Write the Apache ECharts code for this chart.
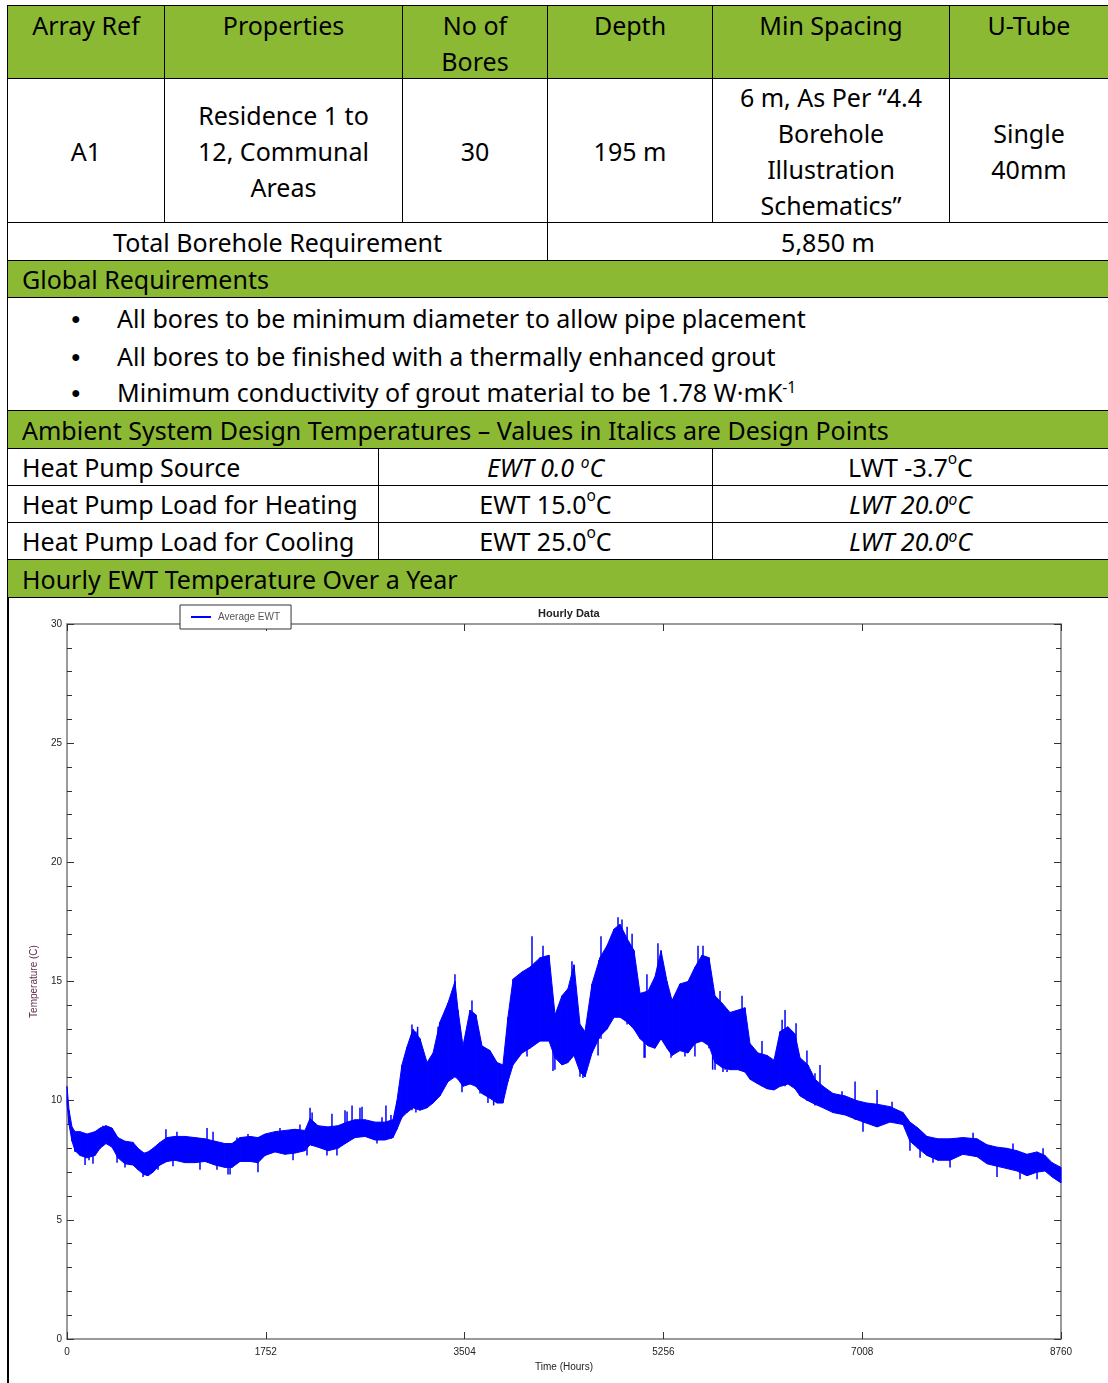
<!DOCTYPE html>
<html>
<head>
<meta charset="utf-8">
<script src="https://cdn.jsdelivr.net/npm/echarts@6/dist/echarts.min.js"></script>
<style>
  body { margin: 0; width: 1108px; height: 1383px; overflow: hidden; background: #fff; position: relative;
         font-family: "Noto Sans", "Open Sans", sans-serif; color: #000; }
  .c { position: absolute; box-sizing: border-box; border: 1px solid #000; display: flex; align-items: center;
       justify-content: center; text-align: center; font-size: 25px; line-height: 36px; }
  .g { background: #8bb934; }
  .t { align-items: flex-start; padding-top: 1px; }
  .l { justify-content: flex-start; padding-left: 14px; }
  .b { position: absolute; left: 109px; font-size: 25px; line-height: 36px; white-space: nowrap; }
  .dot { position: absolute; left: -46px; font-size: 16px; }
  sup { font-size: 62%; vertical-align: baseline; position: relative; top: -0.55em; line-height: 0; }
  #chart { position: absolute; left: 0; top: 597px; width: 1108px; height: 786px; }
  #edge { position: absolute; left: 7px; top: 597px; width: 2px; height: 786px; background: #000; z-index: 5; }
</style>
</head>
<body>
<!-- header row -->
<div class="c g t" style="left:7px;top:5px;width:158px;height:74px">Array Ref</div>
<div class="c g t" style="left:164px;top:5px;width:239px;height:74px">Properties</div>
<div class="c g t" style="left:402px;top:5px;width:146px;height:74px">No of<br>Bores</div>
<div class="c g t" style="left:547px;top:5px;width:166px;height:74px">Depth</div>
<div class="c g t" style="left:712px;top:5px;width:238px;height:74px">Min Spacing</div>
<div class="c g t" style="left:949px;top:5px;width:160px;height:74px">U-Tube</div>
<!-- A1 row -->
<div class="c" style="left:7px;top:78px;width:158px;height:145px">A1</div>
<div class="c" style="left:164px;top:78px;width:239px;height:145px">Residence 1 to<br>12, Communal<br>Areas</div>
<div class="c" style="left:402px;top:78px;width:146px;height:145px">30</div>
<div class="c" style="left:547px;top:78px;width:166px;height:145px">195 m</div>
<div class="c" style="left:712px;top:78px;width:238px;height:145px">6 m, As Per “4.4<br>Borehole<br>Illustration<br>Schematics”</div>
<div class="c" style="left:949px;top:78px;width:160px;height:145px">Single<br>40mm</div>
<!-- total -->
<div class="c" style="left:7px;top:222px;width:541px;height:39px">Total Borehole Requirement</div>
<div class="c" style="left:547px;top:222px;width:562px;height:39px">5,850 m</div>
<!-- global -->
<div class="c g l" style="left:7px;top:260px;width:1102px;height:38px">Global Requirements</div>
<div class="c" style="left:7px;top:297px;width:1102px;height:114px;display:block">
  <div class="b" style="top:2px"><span class="dot">●</span>All bores to be minimum diameter to allow pipe placement</div>
  <div class="b" style="top:40px"><span class="dot">●</span>All bores to be finished with a thermally enhanced grout</div>
  <div class="b" style="top:76px"><span class="dot">●</span>Minimum conductivity of grout material to be 1.78 W·mK<sup>-1</sup></div>
</div>
<!-- ambient -->
<div class="c g l" style="left:7px;top:410px;width:1102px;height:39px">Ambient System Design Temperatures – Values in Italics are Design Points</div>
<div class="c l" style="left:7px;top:448px;width:372px;height:38px">Heat Pump Source</div>
<div class="c" style="left:378px;top:448px;width:335px;height:38px"><i>EWT 0.0 <sup>o</sup>C</i></div>
<div class="c" style="left:712px;top:448px;width:397px;height:38px">LWT -3.7<sup>o</sup>C</div>
<div class="c l" style="left:7px;top:485px;width:372px;height:38px">Heat Pump Load for Heating</div>
<div class="c" style="left:378px;top:485px;width:335px;height:38px">EWT 15.0<sup>o</sup>C</div>
<div class="c" style="left:712px;top:485px;width:397px;height:38px"><i>LWT 20.0<sup>o</sup>C</i></div>
<div class="c l" style="left:7px;top:522px;width:372px;height:38px">Heat Pump Load for Cooling</div>
<div class="c" style="left:378px;top:522px;width:335px;height:38px">EWT 25.0<sup>o</sup>C</div>
<div class="c" style="left:712px;top:522px;width:397px;height:38px"><i>LWT 20.0<sup>o</sup>C</i></div>
<div class="c g l" style="left:7px;top:559px;width:1102px;height:39px">Hourly EWT Temperature Over a Year</div>

<div id="chart"></div>
<div id="edge"></div>

<script>
// hourly EWT envelope (hour of year, upper and lower edge of the daily swing, deg C)
const hours = [0, 18, 44, 71, 115, 176, 247, 291, 344, 397,
  449, 511, 582, 626, 679, 714, 758, 820, 881, 952,
  1040, 1128, 1216, 1304, 1392, 1454, 1525, 1613, 1683, 1745,
  1833, 1921, 2009, 2097, 2142, 2212, 2300, 2388, 2468, 2538,
  2626, 2714, 2802, 2873, 2908, 2952, 2996, 3049, 3111, 3173,
  3226, 3287, 3358, 3419, 3446, 3490, 3552, 3604, 3657, 3728,
  3790, 3842, 3886, 3931, 4010, 4080, 4169, 4248, 4301, 4362,
  4415, 4468, 4521, 4565, 4627, 4697, 4759, 4821, 4874, 4936,
  4997, 5050, 5121, 5182, 5235, 5288, 5332, 5402, 5473, 5534,
  5596, 5658, 5711, 5772, 5843, 5913, 5975, 6019, 6090, 6169,
  6231, 6284, 6354, 6416, 6460, 6530, 6592, 6663, 6751, 6857,
  6962, 7050, 7139, 7253, 7368, 7429, 7500, 7579, 7676, 7782,
  7896, 8020, 8108, 8196, 8284, 8372, 8460, 8548, 8619, 8681,
  8760]

const upperEwt = [10.6, 9.6, 8.9, 8.7, 8.7, 8.6, 8.7, 8.85, 8.95, 8.85,
  8.45, 8.3, 8.25, 8.0, 7.8, 7.85, 8.0, 8.25, 8.45, 8.5,
  8.5, 8.45, 8.4, 8.3, 8.2, 8.2, 8.45, 8.5, 8.45, 8.6,
  8.7, 8.75, 8.8, 8.75, 9.25, 8.95, 8.9, 8.95, 9.1, 9.2,
  9.2, 9.1, 9.1, 9.2, 10.0, 11.5, 12.25, 13.0, 12.6, 11.6,
  12.0, 13.3, 14.1, 15.0, 13.8, 12.3, 13.8, 13.6, 12.3, 12.1,
  11.6, 11.5, 13.5, 15.1, 15.4, 15.6, 16.0, 16.1, 13.6, 14.4,
  14.7, 15.7, 13.2, 12.9, 14.9, 16.0, 16.5, 17.2, 17.4, 16.8,
  16.3, 14.5, 14.6, 15.2, 16.3, 15.0, 14.2, 14.9, 15.0, 15.6,
  16.1, 16.0, 14.4, 14.1, 13.7, 13.8, 13.9, 12.4, 12.0, 11.9,
  11.7, 12.9, 13.1, 12.8, 11.8, 11.5, 10.9, 10.6, 10.3, 10.2,
  10.0, 9.9, 9.85, 9.75, 9.5, 9.1, 8.85, 8.5, 8.4, 8.4,
  8.45, 8.4, 8.15, 8.05, 8.0, 7.9, 7.75, 7.85, 7.7, 7.4,
  7.2]

const lowerEwt = [9.9, 9.0, 8.3, 7.9, 7.7, 7.6, 7.7, 8.0, 8.2, 8.05,
  7.6, 7.35, 7.3, 7.1, 6.9, 6.85, 7.0, 7.3, 7.45, 7.5,
  7.4, 7.4, 7.45, 7.3, 7.2, 7.2, 7.45, 7.45, 7.4, 7.7,
  7.85, 7.75, 7.8, 7.9, 8.15, 8.05, 7.9, 8.0, 8.25, 8.45,
  8.5, 8.35, 8.35, 8.45, 8.8, 9.3, 9.5, 9.7, 9.6, 9.7,
  9.9, 10.2, 10.8, 11.0, 10.9, 10.6, 10.7, 10.6, 10.3, 10.1,
  9.9, 9.9, 10.8, 11.5, 12.0, 12.2, 12.5, 12.5, 11.8, 11.5,
  11.6, 11.9, 11.2, 11.0, 12.0, 12.7, 13.0, 13.5, 13.5, 13.3,
  13.0, 12.6, 12.3, 12.2, 12.6, 12.2, 11.9, 12.1, 12.0, 12.4,
  12.5, 12.3, 11.6, 11.4, 11.3, 11.3, 11.2, 10.9, 10.7, 10.5,
  10.45, 10.6, 10.7, 10.5, 10.2, 10.0, 9.85, 9.7, 9.5, 9.4,
  9.2, 9.05, 8.9, 9.1, 9.0, 8.3, 8.0, 7.7, 7.5, 7.5,
  7.75, 7.65, 7.35, 7.25, 7.15, 7.05, 6.85, 7.0, 7.05, 6.8,
  6.55]

// single hours that poke out of the envelope: [hour, low, high]
const spikes = [[71, 7.85, 8.5], [141, 7.7, 8.4], [159, 7.3, 8.3], [194, 7.5, 8.3], [229, 7.35, 8.5],
  [247, 8.0, 8.7], [317, 8.2, 8.95], [441, 7.4, 8.2], [511, 7.2, 8.0], [670, 6.8, 7.6],
  [802, 7.1, 7.9], [872, 7.8, 8.8], [934, 7.25, 8.0], [969, 7.8, 8.7], [1172, 7.1, 8.0],
  [1234, 7.6, 8.85], [1287, 7.7, 8.7], [1322, 7.1, 8.0], [1419, 6.9, 7.8], [1437, 6.9, 8.0],
  [1498, 7.6, 8.45], [1595, 7.8, 8.6], [1683, 7.0, 8.2], [1877, 8.0, 8.85], [1992, 7.5, 8.4],
  [2053, 8.1, 9.0], [2115, 7.7, 8.5], [2142, 8.3, 9.7], [2160, 8.1, 9.5], [2291, 7.7, 8.6],
  [2335, 8.0, 9.45], [2379, 7.7, 8.5], [2450, 8.2, 9.6], [2468, 8.5, 9.55], [2512, 8.4, 9.8],
  [2582, 8.6, 9.7], [2600, 8.5, 9.75], [2732, 8.2, 8.9], [2776, 8.6, 9.3], [2811, 8.4, 9.8],
  [2855, 8.4, 9.4], [3040, 9.6, 13.2], [3075, 9.5, 12.9], [3090, 10.5, 13.1], [3270, 10.5, 13.1],
  [3419, 11.0, 15.3], [3481, 10.35, 12.0], [3569, 11.0, 14.2], [3640, 10.3, 12.0], [3710, 9.9, 11.5],
  [3760, 9.8, 11.8], [4054, 11.85, 14.0], [4098, 12.4, 16.9], [4195, 12.6, 16.5], [4283, 11.25, 13.0],
  [4300, 11.3, 13.5], [4450, 12.0, 15.85], [4521, 11.0, 12.5], [4547, 10.95, 12.8], [4680, 11.9, 14.0],
  [4688, 12.6, 15.9], [4706, 12.6, 16.9], [4856, 13.6, 17.7], [4891, 13.5, 17.6], [4936, 13.2, 17.3],
  [4980, 13.2, 17.0], [5086, 11.8, 13.5], [5094, 11.8, 13.0], [5111, 12.4, 15.3], [5208, 12.7, 16.6],
  [5323, 11.8, 14.0], [5446, 11.85, 13.5], [5534, 11.85, 13.8], [5561, 12.5, 16.5], [5605, 12.5, 16.5],
  [5658, 12.2, 16.0], [5690, 11.3, 13.8], [5711, 11.3, 13.0], [5755, 11.5, 14.6], [5781, 11.2, 13.0],
  [5800, 11.3, 13.5], [5817, 11.2, 13.0], [5949, 11.3, 14.4], [6125, 10.6, 12.5], [6302, 10.6, 13.4],
  [6328, 10.6, 13.8], [6425, 10.5, 13.25], [6521, 10.0, 12.1], [6592, 9.8, 11.15], [6636, 9.8, 11.5],
  [6830, 9.6, 10.4], [6945, 9.2, 10.8], [7015, 8.7, 9.5], [7139, 8.9, 10.45], [7271, 9.4, 9.95],
  [7429, 7.9, 8.9], [7518, 7.6, 8.5], [7632, 7.4, 8.2], [7782, 7.2, 8.0], [7985, 7.9, 8.65],
  [8196, 6.8, 7.9], [8337, 7.5, 8.2], [8399, 6.7, 7.5], [8549, 6.7, 7.5], [8602, 7.4, 8.0]]

const xTicks = [0, 1752, 3504, 5256, 7008, 8760]

// band pieces between neighbouring readings
const bandData = hours.slice(0, -1).map((h, i) => [
  h, lowerEwt[i], upperEwt[i], hours[i + 1], lowerEwt[i + 1], upperEwt[i + 1],
])

const BLUE = '#0000ff'
const AXIS_GREY = '#7a7a7a'

const chart = echarts.init(document.getElementById('chart'))

const xAxisBase = {
  type: 'value',
  min: xTicks[0],
  max: xTicks[xTicks.length - 1],
  interval: xTicks[1] - xTicks[0],
  axisLine: { onZero: false, lineStyle: { color: AXIS_GREY, width: 1.5 } },
  axisTick: { inside: true, length: 7, lineStyle: { color: '#333' } },
  splitLine: { show: false },
}

const yAxisBase = {
  type: 'value',
  min: 0,
  max: 30,
  interval: 5,
  axisLine: { show: true, onZero: false, lineStyle: { color: AXIS_GREY, width: 1.5 } },
  axisTick: { show: true, inside: true, length: 7, lineStyle: { color: '#333' } },
  minorTick: { show: true, splitNumber: 5, length: 5, lineStyle: { color: '#333' } },
  splitLine: { show: false },
}

chart.setOption({
  animation: false,
  textStyle: { fontFamily: 'Liberation Sans' },
  title: {
    text: 'Hourly Data',
    left: 533,
    top: 6,
    textStyle: { fontSize: 11, fontWeight: 'bold', color: '#222', fontFamily: 'Liberation Sans' },
  },
  legend: {
    left: 180,
    top: 8,
    padding: [7, 11, 7, 11],
    backgroundColor: '#fff',
    borderColor: '#333',
    borderWidth: 1,
    borderRadius: 0,
    icon: 'rect',
    itemWidth: 20,
    itemHeight: 2,
    itemGap: 5,
    textStyle: { fontSize: 10, color: '#555', padding: [0, 0, 0, 2] },
    data: ['Average EWT'],
  },
  grid: { left: 67, right: 47, top: 27, bottom: 44 },
  xAxis: [
    {
      ...xAxisBase,
      position: 'bottom',
      name: 'Time (Hours)',
      nameLocation: 'middle',
      nameGap: 21,
      nameTextStyle: { fontSize: 10, color: '#222' },
      axisLabel: { fontSize: 10, color: '#222', margin: 8, formatter: v => String(v) },
    },
    { ...xAxisBase, position: 'top', axisLabel: { show: false } },
  ],
  yAxis: [
    {
      ...yAxisBase,
      position: 'left',
      name: 'Temperature (C)',
      nameLocation: 'middle',
      nameGap: 28,
      nameTextStyle: { fontSize: 10, color: '#5e2a4c' },
      axisLabel: { fontSize: 10, color: '#222', margin: 5 },
    },
    { ...yAxisBase, position: 'right', axisLabel: { show: false } },
  ],
  series: [
    {
      name: 'Average EWT',
      type: 'custom',
      silent: true,
      itemStyle: { color: BLUE },
      encode: { x: [0, 3], y: [1, 2, 4, 5] },
      data: bandData,
      renderItem: (params, api) => {
        const a = api.coord([api.value(0), api.value(2)])
        const b = api.coord([api.value(3), api.value(5)])
        const c = api.coord([api.value(3), api.value(4)])
        const d = api.coord([api.value(0), api.value(1)])
        return {
          type: 'polygon',
          shape: { points: [a, b, c, d] },
          style: { fill: BLUE, stroke: BLUE, lineWidth: 1 },
        }
      },
    },
    {
      name: 'Average EWT',
      type: 'custom',
      silent: true,
      itemStyle: { color: BLUE },
      encode: { x: 0, y: [1, 2] },
      data: spikes,
      renderItem: (params, api) => {
        const lo = api.coord([api.value(0), api.value(1)])
        const hi = api.coord([api.value(0), api.value(2)])
        return {
          type: 'line',
          shape: { x1: lo[0], y1: lo[1], x2: hi[0], y2: hi[1] },
          style: { stroke: BLUE, lineWidth: 1.5 },
        }
      },
    },
  ],
})
</script>
</body>
</html>
